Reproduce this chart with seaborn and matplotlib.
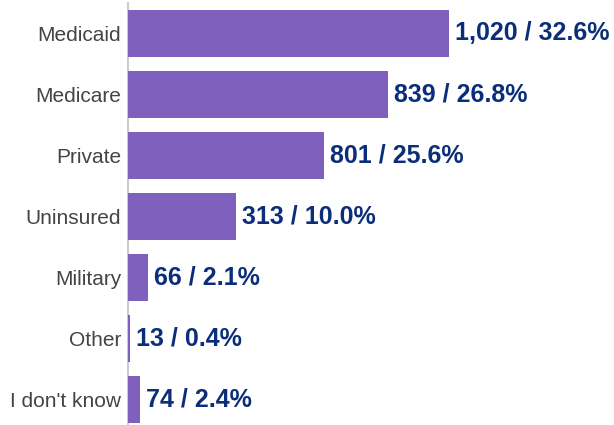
import pandas as pd
import matplotlib.pyplot as plt
import seaborn as sns

# values
categories = ["Medicaid", "Medicare", "Private", "Uninsured", "Military", "Other", "I don't know"]
bar_lengths = [1020, 825, 623, 343, 64, 7, 38]   # bar lengths as drawn
counts = [1020, 839, 801, 313, 66, 13, 74]
percents = [32.6, 26.8, 25.6, 10.0, 2.1, 0.4, 2.4]

df = pd.DataFrame({"Category": categories, "Value": bar_lengths})
labels = [f"{c:,} / {p:.1f}%" for c, p in zip(counts, percents)]

sns.set_style("white")
plt.rcParams["font.family"] = ["Liberation Sans", "DejaVu Sans"]

fig = plt.figure(figsize=(6.14, 4.25), dpi=100)
ax = fig.add_axes([128 / 614, 0, 486 / 614, 422 / 425])

sns.barplot(data=df, x="Value", y="Category", color="#7F60BC", saturation=1,
            width=0.77, linewidth=0, ax=ax)

ax.bar_label(ax.containers[0], labels=labels, padding=4.5, fontsize=18,
             fontweight="bold", color="#0B2E7B")

ax.set_xlim(0, 1544)
ax.set_ylim(6.42, -0.50)
ax.set_xlabel("")
ax.set_ylabel("")
ax.set_xticks([])
ax.tick_params(axis="y", length=0, pad=5, labelsize=15, labelcolor="#444444")

for s in ["top", "right", "bottom"]:
    ax.spines[s].set_visible(False)
ax.spines["left"].set_color("#cccccc")
ax.spines["left"].set_linewidth(1.5)
ax.spines["left"].set_zorder(0.5)

fig.savefig("out.png", dpi=100)
